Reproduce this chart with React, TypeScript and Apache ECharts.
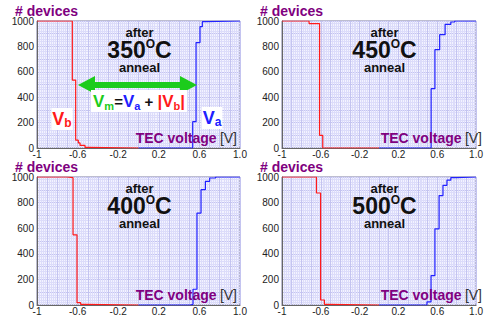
import React, { useEffect, useRef } from "react";
import * as echarts from "echarts";

// ---------- data ----------
const xTickValues = [-1, -0.6, -0.2, 0.2, 0.6, 1.0];
const xTickLabels = ["-1", "-0.6", "-0.2", "0.2", "0.6", "1.0"];
const yTickValues = [0, 200, 400, 600, 800, 1000];
const yTickLabels = ["0", "200", "400", "600", "800", "1000"];

const temps = ["350", "450", "400", "500"];

const vb350 = [[-1, 1000], [-0.652, 535], [-0.619, 62], [-0.593, 40], [-0.576, 20], [-0.527, 5], [-0.49, 0], [0, 0]];
const va350 = [[0, 0], [0.534, 207], [0.567, 830], [0.606, 955], [0.629, 995], [0.66, 1000], [1, 1000]];

const vb450 = [[-1, 1000], [-0.721, 980], [-0.613, 100], [-0.58, 0], [0, 0]];
const va450 = [[0, 0], [0.537, 467], [0.576, 774], [0.625, 892], [0.681, 974], [0.74, 992], [0.78, 1000], [1, 1000]];

const vb400 = [[-1, 1000], [-0.704, 995], [-0.645, 548], [-0.606, 18], [-0.57, 5], [-0.52, 0], [0, 0]];
const va400 = [[0, 0], [0.51, 5], [0.537, 123], [0.576, 718], [0.616, 901], [0.659, 966], [0.701, 992], [0.76, 1000], [1, 1000]];

const vb500 = [[-1, 1000], [-0.645, 875], [-0.602, 39], [-0.563, 5], [-0.52, 0], [0, 0]];
const va500 = [[0, 0], [0.494, 25], [0.536, 230], [0.576, 595], [0.619, 855], [0.659, 935], [0.7, 975], [0.74, 995], [0.8, 1000], [1, 1000]];

const vbSeries = [vb350, vb450, vb400, vb500];
const vaSeries = [va350, va450, va400, va500];

// ---------- layout ----------
const W = 486;
const H = 320;
const PW = 203;
const panels = [
  { left: 37, top: 21, h: 127 },
  { left: 282, top: 21, h: 127 },
  { left: 37, top: 177, h: 128 },
  { left: 282, top: 177, h: 128 },
];

const FONT = "'Liberation Sans', Arial, Helvetica, sans-serif";
const PURPLE = "#800080";
const RED = "#ff1a1a";
const BLUE = "#2020ff";
const GREEN = "#1ccc1c";

function near(v: number, arr: number[], eps: number) {
  for (let i = 0; i < arr.length; i++) if (Math.abs(v - arr[i]) < eps) return i;
  return -1;
}

export default function App() {
  const ref = useRef<HTMLDivElement>(null);

  useEffect(() => {
    document.body.style.margin = "0";
    if (!ref.current) return;
    const chart = echarts.init(ref.current, undefined, { renderer: "svg", width: W, height: H });

    const grid = panels.map((p) => ({
      left: p.left,
      top: p.top,
      width: PW,
      height: p.h,
      show: true,
      backgroundColor: "#f3f3ff",
      borderColor: "#7a7aa0",
      borderWidth: 1,
    }));

    const xAxis = panels.map((_, i) => ({
      type: "value",
      gridIndex: i,
      min: -1,
      max: 1,
      interval: 0.1,
      axisLine: { show: true, onZero: false, lineStyle: { color: "#666", width: 1 } },
      axisTick: { show: false },
      axisLabel: {
        margin: 1,
        fontFamily: FONT,
        fontSize: 10,
        lineHeight: 10,
        color: "#222",
        showMinLabel: true,
        showMaxLabel: true,
        formatter: (v: number) => {
          const k = near(v, xTickValues, 1e-6);
          return k >= 0 ? xTickLabels[k] : "";
        },
      },
      splitLine: { show: true, lineStyle: { color: "#c4c4f0", width: 1 } },
      minorTick: { show: false, splitNumber: 5 },
      minorSplitLine: { show: true, lineStyle: { color: "#dcdcfa", width: 1 } },
    }));

    const yAxis = panels.map((_, i) => ({
      type: "value",
      gridIndex: i,
      min: 0,
      max: 1000,
      interval: 100,
      axisLine: { show: true, onZero: false, lineStyle: { color: "#666", width: 1 } },
      axisTick: { show: false },
      axisLabel: {
        margin: 3,
        fontFamily: FONT,
        fontSize: 10,
        color: "#222",
        lineHeight: 8,
        formatter: (v: number) => {
          const k = near(v, yTickValues, 1e-6);
          return k >= 0 ? yTickLabels[k] : "";
        },
      },
      splitLine: { show: true, lineStyle: { color: "#c4c4f0", width: 1 } },
      minorTick: { show: false, splitNumber: 5 },
      minorSplitLine: { show: true, lineStyle: { color: "#dcdcfa", width: 1 } },
    }));

    const series: any[] = [];
    panels.forEach((_, i) => {
      series.push({
        type: "line",
        xAxisIndex: i,
        yAxisIndex: i,
        data: vbSeries[i],
        step: "end",
        symbol: "none",
        lineStyle: { color: RED, width: 1.2 },
        z: 5,
      });
      series.push({
        type: "line",
        xAxisIndex: i,
        yAxisIndex: i,
        data: vaSeries[i],
        step: "end",
        symbol: "none",
        lineStyle: { color: BLUE, width: 1.2 },
        z: 5,
      });
    });

    const graphic: any[] = [];
    panels.forEach((p, i) => {
      const cx = p.left + PW / 2 + 1;
      graphic.push({
        type: "text",
        x: p.left - 22,
        y: p.top - 10.5,
        style: {
          text: "# devices",
          font: `bold 14px ${FONT}`,
          lineHeight: 12,
          fill: PURPLE,
          align: "left",
          verticalAlign: "middle",
        },
        z: 10,
      });
      graphic.push({
        type: "text",
        x: p.left + PW - 3,
        y: p.top + p.h - 10,
        style: {
          text: "{t|TEC voltage} {u|[V]}",
          rich: {
            t: { font: `bold 14px ${FONT}`, fill: PURPLE },
            u: { font: `14px ${FONT}`, fill: "#333" },
          },
          align: "right",
          verticalAlign: "middle",
        },
        z: 10,
      });
      graphic.push({
        type: "text",
        x: cx,
        y: p.top + 11,
        style: { text: "after", font: `bold 13px ${FONT}`, fill: "#111", align: "center", verticalAlign: "middle" },
        z: 10,
      });
      graphic.push({
        type: "text",
        x: cx,
        y: p.top + 29,
        style: {
          text: `{a|${temps[i]}}{o|O}{a|C}`,
          rich: {
            a: { font: `bold 23px ${FONT}`, fill: "#111", lineHeight: 24 },
            o: { font: `bold 12px ${FONT}`, fill: "#111", verticalAlign: "top", lineHeight: 12, padding: [0, 0, 8, 0] },
          },
          align: "center",
          verticalAlign: "middle",
        },
        z: 10,
      });
      graphic.push({
        type: "text",
        x: cx,
        y: p.top + 46,
        style: { text: "anneal", font: `bold 13px ${FONT}`, fill: "#111", align: "center", verticalAlign: "middle" },
        z: 10,
      });
    });

    // panel 1 annotations
    const ay = 85;
    const x1 = 78;
    const x2 = 197;
    const hw = 17;
    const hh = 9;
    const sh = 3;
    graphic.push({
      type: "polygon",
      shape: {
        points: [
          [x1, ay],
          [x1 + hw, ay - hh],
          [x1 + hw, ay - sh],
          [x2 - hw, ay - sh],
          [x2 - hw, ay - hh],
          [x2, ay],
          [x2 - hw, ay + hh],
          [x2 - hw, ay + sh],
          [x1 + hw, ay + sh],
          [x1 + hw, ay + hh],
        ],
      },
      style: { fill: GREEN },
      z: 10,
    });
    graphic.push({
      type: "text",
      x: 139,
      y: 101,
      style: {
        text: "{g|V}{gs|m}{k|=}{b|V}{bs|a}{k| + }{r||V}{rs|b}{r||}",
        rich: {
          g: { font: `bold 17px ${FONT}`, fill: GREEN, lineHeight: 20 },
          gs: { font: `bold 11px ${FONT}`, fill: GREEN, verticalAlign: "bottom", lineHeight: 14 },
          b: { font: `bold 17px ${FONT}`, fill: BLUE, lineHeight: 20 },
          bs: { font: `bold 11px ${FONT}`, fill: BLUE, verticalAlign: "bottom", lineHeight: 14 },
          r: { font: `bold 17px ${FONT}`, fill: RED, lineHeight: 20 },
          rs: { font: `bold 11px ${FONT}`, fill: RED, verticalAlign: "bottom", lineHeight: 14 },
          k: { font: `bold 15px ${FONT}`, fill: "#111", lineHeight: 20 },
        },
        align: "center",
        verticalAlign: "middle",
        backgroundColor: "#ffffff",
        padding: [1, 2, 1, 2],
      },
      z: 10,
    });
    graphic.push({
      type: "text",
      x: 62,
      y: 119,
      style: {
        text: "{v|V}{s|b}",
        rich: {
          v: { font: `bold 18px ${FONT}`, fill: RED, lineHeight: 20 },
          s: { font: `bold 12px ${FONT}`, fill: RED, verticalAlign: "bottom", lineHeight: 14 },
        },
        align: "center",
        verticalAlign: "middle",
        backgroundColor: "#ffffff",
        padding: [1, 1, 1, 1],
      },
      z: 10,
    });
    graphic.push({
      type: "text",
      x: 212,
      y: 118,
      style: {
        text: "{v|V}{s|a}",
        rich: {
          v: { font: `bold 18px ${FONT}`, fill: BLUE, lineHeight: 20 },
          s: { font: `bold 12px ${FONT}`, fill: BLUE, verticalAlign: "bottom", lineHeight: 14 },
        },
        align: "center",
        verticalAlign: "middle",
        backgroundColor: "#ffffff",
        padding: [1, 1, 1, 1],
      },
      z: 10,
    });

    chart.setOption({
      animation: false,
      backgroundColor: "#ffffff",
      grid,
      xAxis,
      yAxis,
      series,
      graphic,
    });

    return () => chart.dispose();
  }, []);

  return <div ref={ref} style={{ width: W, height: H }} />;
}
